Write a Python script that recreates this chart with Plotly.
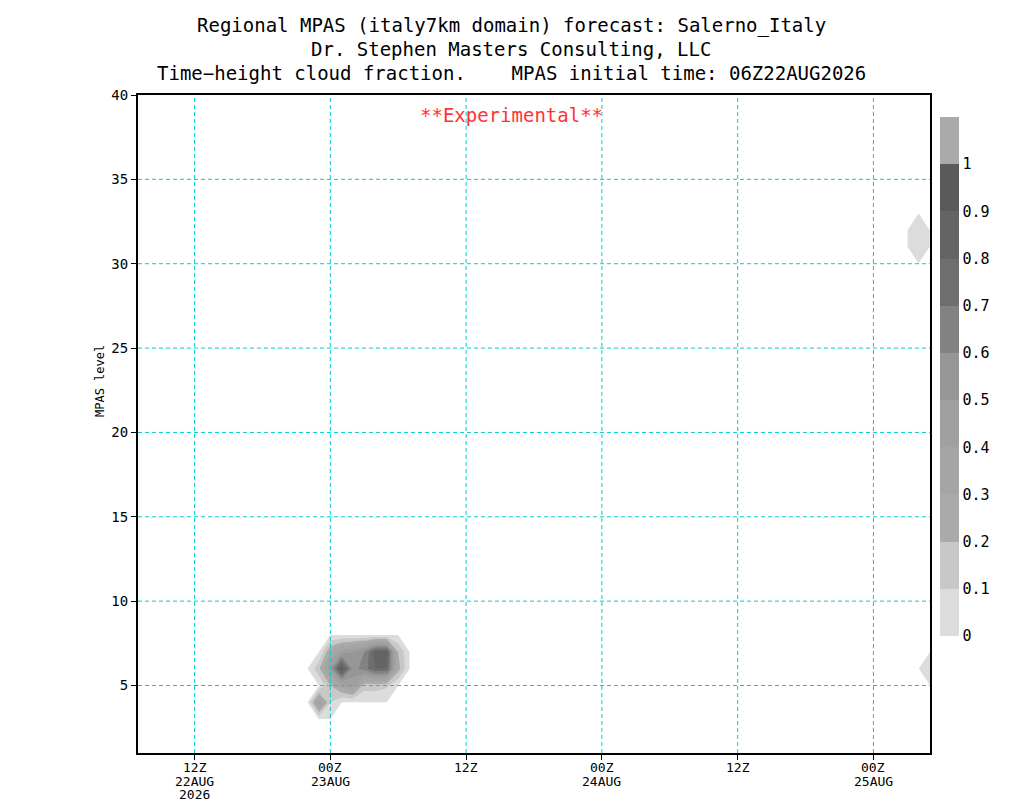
import numpy as np
import pandas as pd
import plotly.graph_objects as go

# ── Data ──────────────────────────────────────────────────
INIT = pd.Timestamp('2026-08-22 06:00')
FCST_HOURS = list(range(1, 72))          # hourly, 07Z22AUG .. 05Z25AUG
LEVELS = list(range(1, 41))

# non-zero cloud fraction: forecast hour, MPAS level, value
CLOUD_FH = [17, 17, 18, 18, 18, 18, 19, 19, 19, 20, 20, 20, 21, 21, 21,
            22, 22, 22, 23, 23, 23, 24, 24, 70, 70, 71]
CLOUD_LEV = [4, 6, 4, 5, 6, 7, 5, 6, 7, 5, 6, 7, 5, 6, 7,
             5, 6, 7, 5, 6, 7, 6, 7, 31, 32, 6]
CLOUD_VAL = [0.45, 0.18, 0.1, 0.2, 0.5, 0.3, 0.35, 0.95, 0.45, 0.45, 0.55, 0.5, 0.15, 0.65, 0.6,
             0.15, 0.8, 0.85, 0.12, 0.8, 0.85, 0.25, 0.2, 0.05, 0.05, 0.05]

CLEVS = [0, 0.1, 0.2, 0.3, 0.4, 0.5, 0.6, 0.7, 0.8, 0.9, 1]
SHADES = ['#dcdcdc', '#c8c8c8', '#aaaaaa', '#a5a5a5', '#a0a0a0', '#969696',
          '#828282', '#6e6e6e', '#646464', '#5a5a5a', '#aaaaaa']

XTICK_HOURS = [6, 18, 30, 42, 54, 66]
XTICK_TEXT = ['12Z', '00Z', '12Z', '00Z', '12Z', '00Z']
XTICK_DATE = ['22AUG', '23AUG', '', '24AUG', '', '25AUG']
XTICK_YEAR = ['2026', '', '', '', '', '']
YTICKS = [5, 10, 15, 20, 25, 30, 35, 40]

TITLE_LINES = [
    'Regional MPAS (italy7km domain) forecast: Salerno_Italy',
    'Dr. Stephen Masters Consulting, LLC',
    'Time\u2212height cloud fraction.    MPAS initial time: 06Z22AUG2026',
]

GRID = '#00cccc'
FONT = 'DejaVu Sans Mono'

# page body adds an 8px margin, so pull the frame back by that much
L, T, W, H = 130, 87, 792, 658

# ── Build grid ────────────────────────────────────────────
times = [INIT + pd.Timedelta(hours=h) for h in FCST_HOURS]
z = np.zeros((len(LEVELS), len(FCST_HOURS)))
for fh, lev, val in zip(CLOUD_FH, CLOUD_LEV, CLOUD_VAL):
    z[LEVELS.index(lev), FCST_HOURS.index(fh)] = val

# contour bands: below first level transparent, then the grays, then >1
eps = 0.001
bands = ['rgba(255,255,255,0)'] + SHADES
cscale = [[i / (len(bands) - 1), c] for i, c in enumerate(bands)]

fig = go.Figure()
fig.add_trace(go.Contour(
    x=times, y=LEVELS, z=z,
    autocontour=False,
    contours=dict(start=CLEVS[0] + eps, end=CLEVS[-1] + eps, size=0.1,
                  coloring='fill', showlines=False),
    line=dict(width=0, smoothing=0),
    colorscale=cscale, showscale=False, hoverinfo='skip',
))

# stepped colour key
n = len(SHADES)
key_scale = []
for i, c in enumerate(SHADES):
    key_scale += [[i / n, c], [(i + 1) / n, c]]
fig.add_trace(go.Scatter(
    x=[None], y=[None], mode='markers', showlegend=False,
    marker=dict(color=[0], cmin=0, cmax=1.1, colorscale=key_scale, showscale=True,
                colorbar=dict(x=(940 - 138) / W, xanchor='left', xpad=0, ypad=0,
                              y=(753 - 376.5) / H, yanchor='middle', lenmode='pixels', len=519,
                              thickness=19, outlinewidth=0,
                              tickvals=CLEVS, ticktext=[f'{v:g}' for v in CLEVS],
                              ticks='', tickfont=dict(size=15, color='black', family=FONT))),
))

# grid drawn on top of the shading, as GrADS does
tick_times = [INIT + pd.Timedelta(hours=h) for h in XTICK_HOURS]
for t in tick_times:
    fig.add_shape(type='line', xref='x', yref='paper', x0=t, x1=t, y0=0, y1=1,
                  line=dict(color=GRID, width=1, dash='4px,3px'), layer='above')
for yv in YTICKS[:-1]:
    fig.add_shape(type='line', xref='paper', yref='y', x0=0, x1=1, y0=yv, y1=yv,
                  line=dict(color=GRID, width=1, dash='4px,3px'), layer='above')

# GrADS style time labels: hour / date / year stacked under each tick
for t, hr, d, yr in zip(tick_times, XTICK_TEXT, XTICK_DATE, XTICK_YEAR):
    for txt, dy in ((hr, -14), (d, -28), (yr, -41)):
        if txt:
            fig.add_annotation(text=txt, x=t, xref='x', y=0, yref='paper', yshift=dy,
                               showarrow=False, xanchor='center', yanchor='middle',
                               font=dict(size=13, color='black', family=FONT))

for i, line in enumerate(TITLE_LINES):
    fig.add_annotation(text=line, xref='paper', yref='paper', x=(511 - 138) / W, y=1,
                       yshift=95 - 25 - 24 * i, showarrow=False,
                       font=dict(size=19, color='black', family=FONT),
                       xanchor='center', yanchor='middle')

fig.add_annotation(text='**Experimental**', xref='paper', yref='paper', x=(511 - 138) / W, y=1,
                   yshift=-20, showarrow=False, xanchor='center', yanchor='middle',
                   font=dict(size=19, color='#ff3333', family=FONT))

fig.add_annotation(text='MPAS level', xref='paper', yref='paper', x=(100 - 138) / W,
                   y=(753 - 381) / H, textangle=-90, showarrow=False,
                   xanchor='center', yanchor='middle',
                   font=dict(size=12, color='black', family=FONT))

fig.update_layout(
    width=1024, height=800,
    margin=dict(l=L, r=1024 - L - W, t=T, b=800 - T - H),
    paper_bgcolor='white', plot_bgcolor='white',
    font=dict(family=FONT, color='black'),
    showlegend=False,
)
fig.update_xaxes(
    range=[times[0], times[-1]], tickvals=tick_times, showticklabels=False,
    showgrid=False, zeroline=False, showline=True, linecolor='black', linewidth=2,
    mirror=True, ticks='outside', ticklen=5, tickcolor='black', automargin=False,
    layer='above traces',
)
fig.update_yaxes(
    range=[1, 40], tickvals=YTICKS, showgrid=False, zeroline=False,
    showline=True, linecolor='black', linewidth=2, mirror=True, automargin=False,
    ticks='outside', ticklen=5, tickcolor='black',
    tickfont=dict(size=14, family=FONT), layer='above traces',
)

fig.write_html('out.html')
